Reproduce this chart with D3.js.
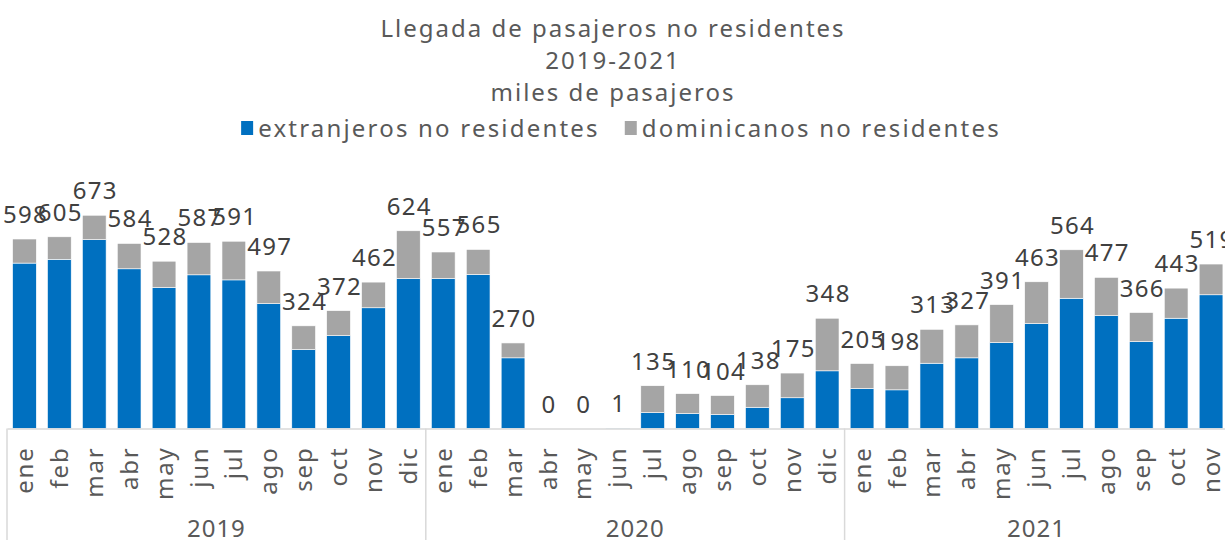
<!DOCTYPE html>
<html>
<head>
<meta charset="utf-8">
<script src="https://cdn.jsdelivr.net/npm/d3@7"></script>
<style>
  body { margin: 0; background: #fff; }
  svg { font-family: "Noto Sans", sans-serif; display: block; }
</style>
</head>
<body>
<svg id="chart" width="1225" height="540"></svg>
<script>
"use strict";

var months = ['ene', 'feb', 'mar', 'abr', 'may', 'jun', 'jul', 'ago', 'sep', 'oct', 'nov', 'dic'];
var years = ['2019', '2020', '2021'];
var monthsPerYear = [12, 12, 11];

// miles de pasajeros
var extranjeros = [
  522, 534, 596, 504, 445, 485, 469, 394, 249, 293, 381, 473,
  473, 486, 223, 0, 0, 1, 50, 47, 44, 67, 97, 182,
  126, 122, 206, 223, 271, 331, 411, 356, 274, 348, 422
];
var dominicanos = [
  76, 71, 77, 80, 83, 102, 122, 103, 75, 79, 81, 151,
  84, 79, 47, 0, 0, 0, 85, 63, 60, 71, 78, 166,
  79, 76, 107, 104, 120, 132, 153, 121, 92, 95, 97
];
var seriesNames = ['extranjeros no residentes', 'dominicanos no residentes'];
var seriesColors = ['#0070C0', '#A5A5A5'];

function build_rows() {
  var rows = [];
  var i = 0;
  years.forEach(function (yr, yi) {
    for (var m = 0; m < monthsPerYear[yi]; m++) {
      rows.push({
        key: yr + '-' + months[m],
        year: yr,
        month: months[m],
        ext: extranjeros[i],
        dom: dominicanos[i],
        total: extranjeros[i] + dominicanos[i]
      });
      i++;
    }
  });
  return rows;
}

function draw_chart() {
  var svg = d3.select('#chart');
  var data = build_rows();

  var baseY = 428.5;
  var xscale = d3.scaleBand()
    .domain(data.map(d => d.key))
    .range([7, 1228.5])
    .paddingInner(0.32)
    .paddingOuter(0.16);
  var yscale = d3.scaleLinear().domain([0, 800]).range([baseY, 175]);

  // title
  var title = ['Llegada de pasajeros no residentes', '2019-2021', 'miles de pasajeros'];
  svg.append('g').selectAll('text')
    .data(title)
    .join('text')
    .attr('x', 613)
    .attr('y', (d, i) => 37 + i * 32)
    .attr('text-anchor', 'middle')
    .attr('fill', '#595959')
    .style('font-size', '24px')
    .style('letter-spacing', '2px')
    .text(d => d);

  // legend, laid out left to right and centred
  var legend = svg.append('g');
  var items = seriesNames.map(function (name, i) {
    var g = legend.append('g');
    g.append('rect')
      .attr('x', 0).attr('y', 121)
      .attr('width', 12).attr('height', 14)
      .attr('fill', seriesColors[i]);
    var t = g.append('text')
      .attr('x', 17).attr('y', 137)
      .attr('fill', '#595959')
      .style('font-size', '24px')
      .style('letter-spacing', '2.2px')
      .text(name);
    return { g: g, w: 17 + t.node().getComputedTextLength() };
  });
  var gap = 25;
  var totalW = d3.sum(items, d => d.w) + gap * (items.length - 1);
  var cx = 621 - totalW / 2;
  items.forEach(function (it) {
    it.g.attr('transform', 'translate(' + cx + ',0)');
    cx += it.w + gap;
  });

  // stacked bars
  var stack = d3.stack().keys(['ext', 'dom'])(data);
  svg.append('g').selectAll('g')
    .data(stack)
    .join('g')
    .attr('fill', (d, i) => seriesColors[i])
    .selectAll('rect')
    .data(d => d)
    .join('rect')
    .attr('x', d => xscale(d.data.key))
    .attr('width', xscale.bandwidth())
    .attr('y', d => yscale(d[1]))
    .attr('height', d => yscale(d[0]) - yscale(d[1]))
    .attr('stroke', '#fff')
    .attr('stroke-width', 0.6);

  // total labels
  svg.append('g').selectAll('text')
    .data(data)
    .join('text')
    .attr('x', d => xscale(d.key) + xscale.bandwidth() / 2 + 1)
    .attr('y', d => yscale(d.total) - 16)
    .attr('text-anchor', 'middle')
    .attr('fill', '#404040')
    .style('font-size', '24px')
    .style('letter-spacing', '1.3px')
    .text(d => d.total);

  // category axis
  var xaxis = d3.axisBottom(xscale)
    .tickSize(0)
    .tickFormat(k => k.split('-')[1]);
  var axis = svg.append('g')
    .attr('transform', 'translate(0,' + baseY + ')')
    .call(xaxis);
  axis.select('.domain').attr('stroke', '#D9D9D9').attr('stroke-width', 1.5);
  axis.selectAll('text')
    .attr('transform', 'rotate(-90)')
    .attr('x', -18)
    .attr('y', 0)
    .attr('dy', '0.36em')
    .style('text-anchor', 'end')
    .style('font-size', '24px')
    .style('letter-spacing', '1.8px')
    .style('font-family', '"Noto Sans", sans-serif')
    .attr('fill', '#595959');

  // year groups
  var half = xscale.step() * xscale.paddingInner() / 2;
  var groups = years.map(function (yr) {
    var keys = data.filter(d => d.year === yr).map(d => d.key);
    return {
      year: yr,
      x0: xscale(keys[0]) - half,
      x1: xscale(keys[keys.length - 1]) + xscale.bandwidth() + half
    };
  });
  svg.append('g').selectAll('line')
    .data(groups)
    .join('line')
    .attr('x1', d => d.x0).attr('x2', d => d.x0)
    .attr('y1', baseY).attr('y2', 540)
    .attr('stroke', '#D9D9D9')
    .attr('stroke-width', 1.5);
  svg.append('g').selectAll('text')
    .data(groups)
    .join('text')
    .attr('x', d => (d.x0 + d.x1) / 2)
    .attr('y', 537)
    .attr('text-anchor', 'middle')
    .attr('fill', '#595959')
    .style('font-size', '24px')
    .style('letter-spacing', '1px')
    .text(d => d.year);
}

draw_chart();
</script>
</body>
</html>
